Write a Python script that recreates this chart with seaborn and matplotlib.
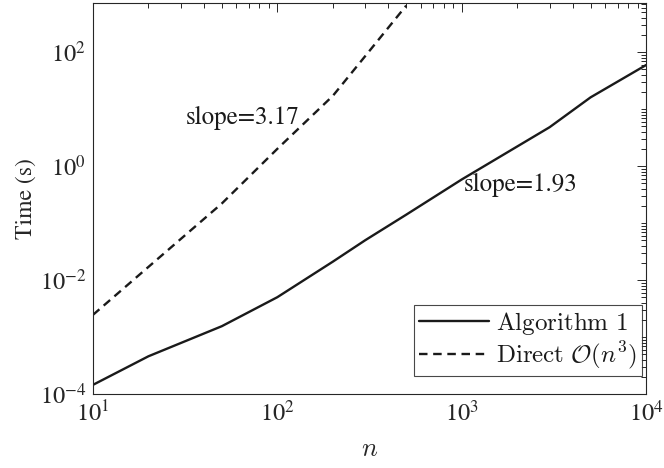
import matplotlib
matplotlib.use("Agg")
import matplotlib.pyplot as plt
import seaborn as sns
import numpy as np
from matplotlib.ticker import LogLocator, LogFormatterMathtext, NullFormatter, FixedLocator

# Data
n_alg = [10, 20, 50, 100, 200, 300, 500, 1000, 2000, 3000, 5000, 10000]
t_alg = [1.45e-4, 4.6e-4, 1.55e-3, 5.0e-3, 0.021, 0.050, 0.14, 0.58, 2.2, 4.8, 16, 59]

n_dir = [10, 20, 50, 100, 200, 300, 500]
t_dir = [2.45e-3, 0.017, 0.22, 2.0, 17, 85, 650]

y_major = [1e-4, 1e-2, 1, 1e2]

label_alg = r"$\mathrm{Algorithm\ 1}$"
label_dir = r"$\mathrm{Direct}\ \mathcal{O}(n^3)$"
x_label = r"$n$"
y_label = "Time (s)"
ann1 = ("slope=3.17", 65, 7.0)
ann2 = ("slope=1.93", 2100, 0.46)

sns.set_theme(style="white")
plt.rcParams['font.family'] = ['STIXGeneral', 'DejaVu Serif']
plt.rcParams['mathtext.fontset'] = 'stix'

fig = plt.figure(figsize=(6.64, 4.68), dpi=100)
ax = fig.add_axes([0.140, 0.158, 0.833, 0.835])

sns.lineplot(x=n_alg, y=t_alg, ax=ax, color='k', linewidth=1.7, label=label_alg)
sns.lineplot(x=n_dir, y=t_dir, ax=ax, color='k', linewidth=1.7, label=label_dir)
ax.lines[1].set_dashes((3.6, 2.4))

ax.set_xscale('log')
ax.set_yscale('log')
ax.set_xlim(10, 1e4)
ax.set_ylim(1e-4, 715)

ax.xaxis.set_major_locator(LogLocator(base=10, numticks=10))
ax.yaxis.set_major_locator(FixedLocator(y_major))
ax.xaxis.set_minor_locator(LogLocator(base=10, subs=np.arange(2, 10), numticks=20))
ax.yaxis.set_minor_locator(LogLocator(base=10, subs=np.arange(1, 10), numticks=20))
ax.xaxis.set_major_formatter(LogFormatterMathtext())
ax.yaxis.set_major_formatter(LogFormatterMathtext())
ax.xaxis.set_minor_formatter(NullFormatter())
ax.yaxis.set_minor_formatter(NullFormatter())

edge = '#262626'
for s in ax.spines.values():
    s.set_color(edge)
    s.set_linewidth(0.8)
ax.tick_params(which='both', direction='in', top=True, right=True, colors=edge,
               labelcolor=edge, width=0.7)
ax.tick_params(which='major', length=6.5, labelsize=17.5, pad=5)
ax.tick_params(which='minor', length=3.5)

ax.set_xlabel(x_label, fontsize=19, color=edge, math_fontfamily='cm', labelpad=8)
ax.set_ylabel(y_label, fontsize=17, color=edge, labelpad=2)

ax.text(ann1[1], ann1[2], ann1[0], fontsize=18, ha='center', va='center', color='k')
ax.text(ann2[1], ann2[2], ann2[0], fontsize=18, ha='center', va='center', color='k')

leg = ax.legend(loc='lower right', bbox_to_anchor=(0.993, 0.046), fontsize=18,
                frameon=True, fancybox=False,
                handlelength=2.8, handletextpad=0.3, borderpad=0.2,
                labelspacing=0.1, borderaxespad=0.0)
leg.get_frame().set_edgecolor('k')
leg.get_frame().set_linewidth(0.8)
for t in leg.get_texts():
    t.set_math_fontfamily('cm')
    t.set_color('k')
leg.get_lines()[1].set_dashes((3.6, 2.4))

fig.savefig('out.png', dpi=100)
